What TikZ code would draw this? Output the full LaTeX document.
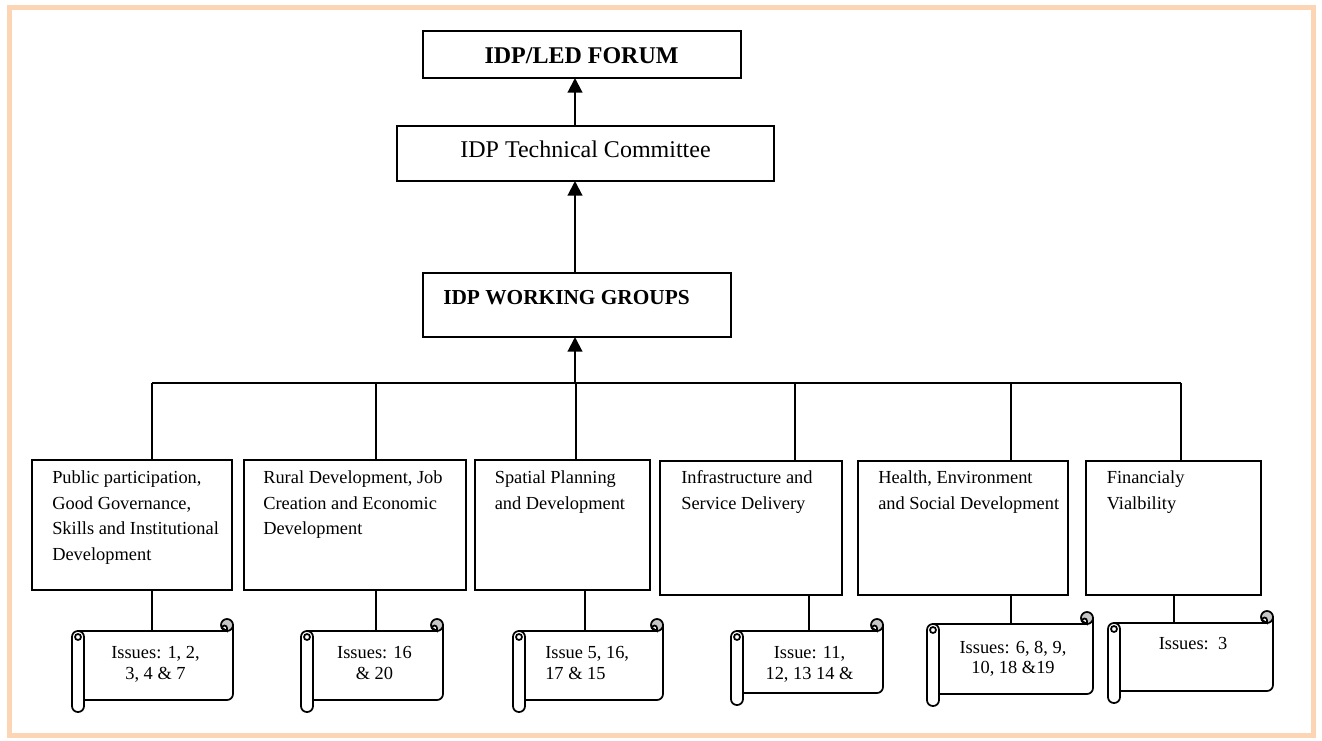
\documentclass[tikz,border=0pt]{standalone}
\usepackage{fontspec}
\setmainfont{Liberation Serif}
\usepackage{tikz}
\usetikzlibrary{positioning}
\usetikzlibrary{arrows.meta}
\definecolor{framepeach}{RGB}{252,213,180}

% scroll shape: x0, y0, x1, y1 (picture units, y downwards)
\newcommand{\issuescroll}[4]{%
	\filldraw[scrollline, fill=white] (#1+6,#2+12) -- (#3-6,#2+12) -- (#3-6,#2+6) -- (#3,#2+6) -- (#3,#4-18) arc (0:90:6) -- (#1+12,#4-12) -- cycle;
	\filldraw[scrollline, fill=gray!45] (#3-6,#2+6) circle (6);
	\filldraw[scrollline, fill=white] (#3-6,#2+12) -- (#3-6,#2+9) arc (0:-180:2.5) -- cycle;
	\filldraw[scrollline, fill=white, rounded corners=4.4pt] (#1,#2+12) rectangle (#1+12,#4);
	\draw[scrollline] (#1+6,#2+18) circle (3);
}

\begin{document}
\begin{tikzpicture}[x=0.75pt, y=-0.75pt,
		topbox/.style={draw, line width=1.2pt, outer sep=0pt, inner sep=0pt},
		grpbox/.style={draw, line width=1.2pt, outer sep=0pt, inner sep=0pt},
		wire/.style={line width=1pt},
		uparrow/.style={line width=1.6pt, -{Triangle[width=11pt,length=11pt]}},
		grptext/.style={anchor=north west, align=left, inner sep=0pt, font=\fontsize{13.8}{19.2}\selectfont},
		isstext/.style={anchor=north, align=center, inner sep=0pt, font=\fontsize{13.8}{15.5}\selectfont},
		scrollline/.style={line width=1.3pt},
		frame/.style={draw=framepeach, line width=3.75pt}]
	\useasboundingbox (0,0) rectangle (1322,740);
	\draw[frame] (9.5,7.5) rectangle (1313,735);

	% top of the hierarchy
	\node[topbox, minimum width=238.5pt, minimum height=35.25pt] (forum) at (582,54.5) {};
	\node[inner sep=0pt, font=\fontsize{18}{20}\selectfont\bfseries] (forumtxt) at (581.5,56) {IDP/LED FORUM};
	\node[topbox, minimum width=282.75pt, minimum height=41.25pt] (tc) at (585.5,153.5) {};
	\node[inner sep=0pt, font=\fontsize{18}{20}\selectfont] (tctxt) at (585.5,149.5) {IDP Technical Committee};
	\node[topbox, minimum width=231pt, minimum height=48pt] (wg) at (577,305) {};
	\node[anchor=west, inner sep=0pt, font=\fontsize{16}{18}\selectfont\bfseries] (wgtxt) at (443,297.5) {IDP WORKING GROUPS};

	\coordinate (spine) at (575,383);
	\draw[uparrow] (tc.north -| spine) -- (forum.south -| spine);
	\draw[uparrow] (wg.north -| spine) -- (tc.south -| spine);
	\draw[uparrow] (spine) -- (wg.south -| spine);

	% working groups
	\node[grpbox, minimum width=150pt, minimum height=97.5pt] (g1) at (132,525) {};
	\node[grpbox, minimum width=166.5pt, minimum height=97.5pt] (g2) at (355,525) {};
	\node[grpbox, minimum width=131.25pt, minimum height=97.5pt] (g3) at (562.5,525) {};
	\node[grpbox, minimum width=136.5pt, minimum height=100.5pt] (g4) at (751,528) {};
	\node[grpbox, minimum width=157.5pt, minimum height=100.5pt] (g5) at (963,528) {};
	\node[grpbox, minimum width=131.25pt, minimum height=100.5pt] (g6) at (1173.5,528) {};

	\node[grptext] (g1txt) at (52,470.5) {Public participation,\\Good Governance,\\Skills and Institutional\\Development};
	\node[grptext] (g2txt) at (263,470.5) {Rural Development, Job\\Creation and Economic\\Development};
	\node[grptext] (g3txt) at (494.5,470.5) {Spatial Planning\\and Development};
	\node[grptext] (g4txt) at (681,470.5) {Infrastructure and\\Service Delivery};
	\node[grptext] (g5txt) at (878,470.5) {Health, Environment\\and Social Development};
	\node[grptext] (g6txt) at (1106.5,470.5) {Financialy\\Vialbility};

	% bus
	\coordinate (b1) at (152,383);
	\coordinate (b2) at (376,383);
	\coordinate (b3) at (576,383);
	\coordinate (b4) at (795,383);
	\coordinate (b5) at (1011,383);
	\coordinate (b6) at (1181,383);
	\draw[wire] (b1) -- (b6);
	\foreach \i in {1,...,6}
		\draw[wire] (b\i) -- (b\i |- g\i.north);

	% issue scrolls
	\issuescroll{72}{619}{233}{712}
	\issuescroll{301}{619}{443}{712}
	\issuescroll{513}{619}{663}{712}
	\issuescroll{731}{619}{883}{705}
	\issuescroll{927}{612}{1093}{706}
	\issuescroll{1108}{611}{1273}{703}

	\coordinate (s1) at (152,631);
	\coordinate (s2) at (376,631);
	\coordinate (s3) at (585,631);
	\coordinate (s4) at (809,631);
	\coordinate (s5) at (1011,624);
	\coordinate (s6) at (1174,623);
	\foreach \i in {1,...,6}
		\draw[wire] (s\i |- g\i.south) -- (s\i);

	\node[isstext] (i1) at (155.5,646.5) {Issues: 1, 2,\\3, 4 \& 7};
	\node[isstext] (i2) at (374.5,646.5) {Issues: 16\\\& 20};
	\node[isstext, anchor=north west, align=left] (i3) at (545,646.5) {Issue 5, 16,\\17 \& 15};
	\node[isstext] (i4) at (809.5,646.5) {Issue: 11,\\12, 13 14 \&};
	\node[isstext] (i5) at (1013,640.5) {Issues: 6, 8, 9,\\10, 18 \&19};
	\node[isstext] (i6) at (1193,637) {Issues:\ \ 3};
\end{tikzpicture}
\end{document}
